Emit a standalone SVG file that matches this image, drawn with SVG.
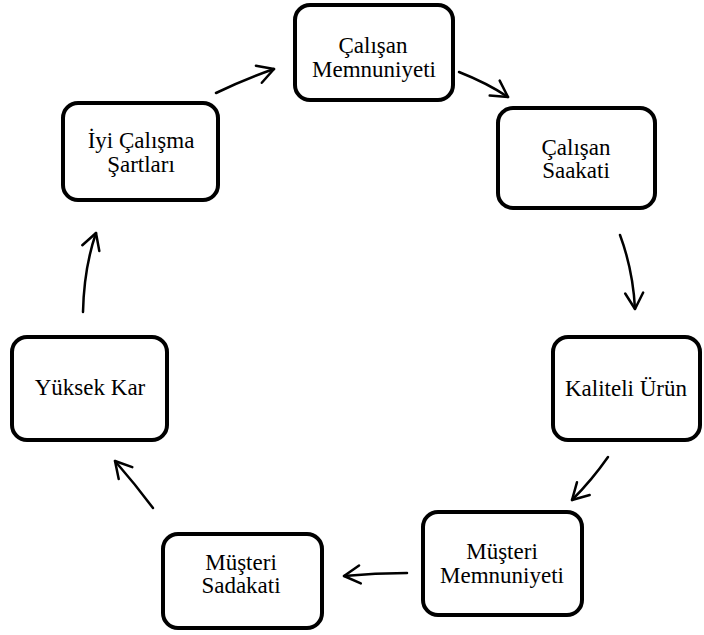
<svg xmlns="http://www.w3.org/2000/svg" width="704" height="635" viewBox="0 0 704 635">
<style>
.box{fill:#fff;stroke:#000;stroke-width:4}
.t{font-family:'Liberation Serif','Times New Roman',serif;font-size:23px;fill:#000;text-anchor:middle}
.c{fill:none;stroke:#000;stroke-width:2.5;stroke-linecap:round;stroke-linejoin:round}
</style>
<defs>
<marker id="ah" markerUnits="userSpaceOnUse" markerWidth="30" markerHeight="30" viewBox="-20 -15 30 30" refX="0" refY="0" orient="auto">
<path d="M-16,-9 L0,0 L-16,9" fill="none" stroke="#000" stroke-width="2.5" stroke-linecap="round" stroke-linejoin="round"/>
</marker>
</defs>
<rect width="704" height="635" fill="#fff"/>
<g id="connectors">
<path class="c" d="M216,93 Q245,79 274,69" marker-end="url(#ah)"/>
<path class="c" d="M459,72 Q487,83 508,97" marker-end="url(#ah)"/>
<path class="c" d="M620,235 Q633,270 635,309" marker-end="url(#ah)"/>
<path class="c" d="M608,457 Q592,480 572,500" marker-end="url(#ah)"/>
<path class="c" d="M407,573 Q375,573 344,576" marker-end="url(#ah)"/>
<path class="c" d="M153,508 Q135,484 115,461" marker-end="url(#ah)"/>
<path class="c" d="M83,312 Q84,268 96,233" marker-end="url(#ah)"/>
</g>
<g id="n1"><rect class="box" x="295" y="5" width="158" height="95" rx="15"/><text class="t" x="373" y="53">Çalışan</text><text class="t" x="374" y="77">Memnuniyeti</text></g>
<g id="n2"><rect class="box" x="498" y="108" width="157" height="100" rx="15"/><text class="t" x="576" y="155">Çalışan</text><text class="t" x="576" y="178">Saakati</text></g>
<g id="n3"><rect class="box" x="553" y="337" width="147" height="103" rx="15"/><text class="t" x="626" y="396">Kaliteli Ürün</text></g>
<g id="n4"><rect class="box" x="423" y="512" width="159" height="103" rx="15"/><text class="t" x="502" y="559">Müşteri</text><text class="t" x="502" y="583">Memnuniyeti</text></g>
<g id="n5"><rect class="box" x="163" y="534" width="159" height="94" rx="15"/><text class="t" x="241" y="570">Müşteri</text><text class="t" x="241" y="593">Sadakati</text></g>
<g id="n6"><rect class="box" x="12" y="337" width="155" height="103" rx="15"/><text class="t" x="90" y="395">Yüksek Kar</text></g>
<g id="n7"><rect class="box" x="63" y="103" width="155" height="97" rx="15"/><text class="t" x="141" y="148">İyi Çalışma</text><text class="t" x="141" y="172">Şartları</text></g>
</svg>
